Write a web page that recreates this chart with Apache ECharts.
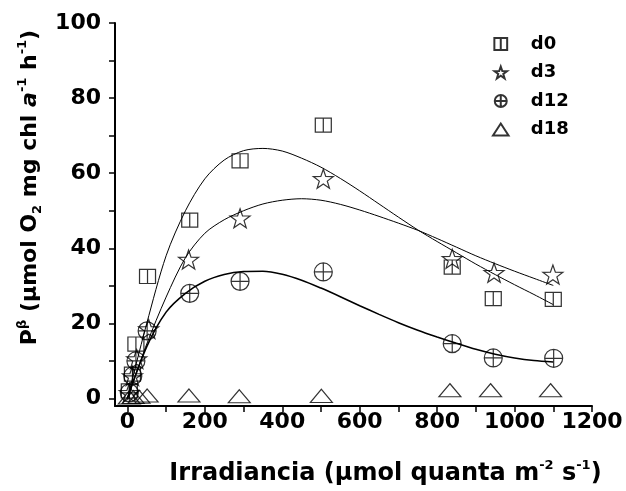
<!DOCTYPE html>
<html>
<head>
<meta charset="utf-8">
<script src="https://cdn.jsdelivr.net/npm/echarts@6/dist/echarts.min.js"></script>
<style>
  html, body { margin: 0; padding: 0; background: #fff; }
  #chart { width: 626px; height: 491px; }
</style>
</head>
<body>
<div id="chart"></div>
<script>
// Photosynthesis–irradiance measurements per day (irradiance, P^B)
const d0Points = [[5, 2], [13, 6.5], [22, 14.5], [52, 32.5], [161, 47.5], [291, 63.3], [506, 72.8], [839, 35], [945, 26.6], [1100, 26.4]];
const d3Points = [[5, 1.5], [13, 6], [24, 10.5], [55, 18.5], [158, 37], [291, 48], [506, 58.5], [839, 37.2], [947, 33.5], [1099, 33]];
const d12Points = [[5, 1.5], [14, 6], [22, 10], [51, 18], [161, 28], [291, 31.2], [506, 33.7], [839, 14.6], [945, 10.8], [1101, 10.7]];
const d18Points = [[5, 0.3], [15, 0.4], [30, 0.5], [51, 0.8], [159, 0.8], [289, 0.6], [501, 0.7], [833, 2.2], [938, 2.2], [1093, 2.2]];

// Fitted P–E curves, sampled every 50 µmol quanta m-2 s-1
const curveX = [0, 50, 100, 150, 200, 250, 300, 350, 400, 450, 500, 550, 600, 650, 700, 750, 800, 850, 900, 950, 1000, 1050, 1100];
const d0Fit = [0, 20, 38, 50, 58.5, 63.5, 66, 66.6, 65.9, 64.0, 61.6, 58.6, 55.3, 51.8, 48.3, 44.9, 41.8, 38.8, 35.8, 33, 30.3, 27.7, 25];
const d3Fit = [0, 14.5, 27, 37.5, 44, 47.6, 50, 51.8, 52.8, 53.2, 52.8, 51.7, 50.2, 48.5, 46.7, 44.8, 42.6, 40.3, 38, 35.9, 33.9, 32, 30.1];
const d12Fit = [0, 13.8, 23, 28, 31.2, 33, 33.8, 33.9, 33.1, 31.5, 29.4, 27.1, 24.7, 22.4, 20.2, 18.2, 16.4, 14.7, 13.1, 11.8, 10.8, 10.1, 9.7];

// Axis ticks and labels
const xTicks = [0, 100, 200, 300, 400, 500, 600, 700, 800, 900, 1000, 1100, 1200];
const xLabels = [0, 200, 400, 600, 800, 1000, 1200];
const yTicks = [0, 10, 20, 30, 40, 50, 60, 70, 80, 90, 100];
const yLabels = [0, 20, 40, 60, 80, 100];

const FONT = '"DejaVu Sans", sans-serif';

const squareSym = 'path://M0,0 L16,0 L16,15 L0,15 Z M8,0 L8,15';
const starSym = 'path://M0,-10 L2.351,-3.236 L9.511,-3.09 L3.804,1.236 L5.878,8.09 L0,4 L-5.878,8.09 L-3.804,1.236 L-9.511,-3.09 L-2.351,-3.236 Z';
const circleSym = 'path://M0,10 A10,10 0 1,1 20,10 A10,10 0 1,1 0,10 Z M10,0 L10,20 M0,10 L20,10';
const triangleSym = 'path://M11,0 L22,17 L0,17 Z';

const hollow = { color: 'transparent', borderColor: '#000', borderWidth: 1.2 };

function titleRich(size) {
  return {
    b: { fontFamily: FONT, fontWeight: 'bold', fontSize: size, color: '#000', lineHeight: size + 6 },
    it: { fontFamily: FONT, fontWeight: 'bold', fontStyle: 'italic', fontSize: size, color: '#000', lineHeight: size + 6 },
    sup: { fontFamily: FONT, fontWeight: 'bold', fontSize: 13, color: '#000', verticalAlign: 'top', lineHeight: 15 },
    sub: { fontFamily: FONT, fontWeight: 'bold', fontSize: 13, color: '#000', verticalAlign: 'bottom', lineHeight: 13 }
  };
}

const chart = echarts.init(document.getElementById('chart'), null, { renderer: 'canvas' });

function scatter(name, data, symbol, size) {
  return {
    name: name, type: 'scatter', data: data, symbol: symbol, symbolSize: size,
    symbolKeepAspect: true, itemStyle: hollow, z: 3
  };
}
function curve(name, ys, width) {
  return {
    name: name, type: 'line', data: curveX.map((x, i) => [x, ys[i]]), smooth: 0.3, showSymbol: false,
    lineStyle: { color: '#000', width: width }, z: 2, silent: true
  };
}

chart.setOption({
  animation: false,
  backgroundColor: '#fff',
  grid: { left: 115, right: 34, top: 23, bottom: 85, containLabel: false, outerBoundsMode: 'none' },
  legend: {
    data: ['d0', 'd3', 'd12', 'd18'],
    orient: 'vertical',
    left: 487, top: 30,
    itemWidth: 50, itemHeight: 12, itemGap: 10.5,
    textStyle: { fontFamily: FONT, fontWeight: 'bold', fontSize: 18, color: '#000' }
  },
  xAxis: {
    type: 'value', min: -32, max: 1200,
    name: '{b|Irradiancia (μmol quanta m}{sup|-2}{b| s}{sup|-1}{b|)}',
    nameLocation: 'middle', nameGap: 53,
    nameTextStyle: { rich: titleRich(24), padding: [0, 0, 0, 64] },
    splitLine: { show: false },
    axisLine: { onZero: false, lineStyle: { color: '#000', width: 2 } },
    axisTick: { customValues: xTicks, length: 6, lineStyle: { color: '#000', width: 1.5 } },
    axisLabel: { customValues: xLabels, margin: 5, fontFamily: FONT, fontWeight: 'bold', fontSize: 22, color: '#000', formatter: v => String(v) }
  },
  yAxis: {
    type: 'value', min: -2, max: 100,
    name: '{b|P}{sup|β}{b| (μmol O}{sub|2}{b| mg chl }{it|a}{sup|-1}{b| h}{sup|-1}{b|)}',
    nameLocation: 'middle', nameGap: 62,
    nameTextStyle: { rich: titleRich(22), padding: [0, 0, 0, 54] },
    splitLine: { show: false },
    axisLine: { onZero: false, lineStyle: { color: '#000', width: 2 } },
    axisTick: { customValues: yTicks, length: 6, lineStyle: { color: '#000', width: 1.5 } },
    axisLabel: { customValues: yLabels, margin: 14, fontFamily: FONT, fontWeight: 'bold', fontSize: 22, color: '#000', formatter: v => String(v) }
  },
  series: [
    curve('d0 ajuste', d0Fit, 1),
    curve('d3 ajuste', d3Fit, 1),
    curve('d12 ajuste', d12Fit, 1.6),
    scatter('d0', d0Points, squareSym, [16, 15]),
    scatter('d3', d3Points, starSym, 20),
    scatter('d12', d12Points, circleSym, 18),
    scatter('d18', d18Points, triangleSym, [22, 17])
  ]
});
</script>
</body>
</html>
